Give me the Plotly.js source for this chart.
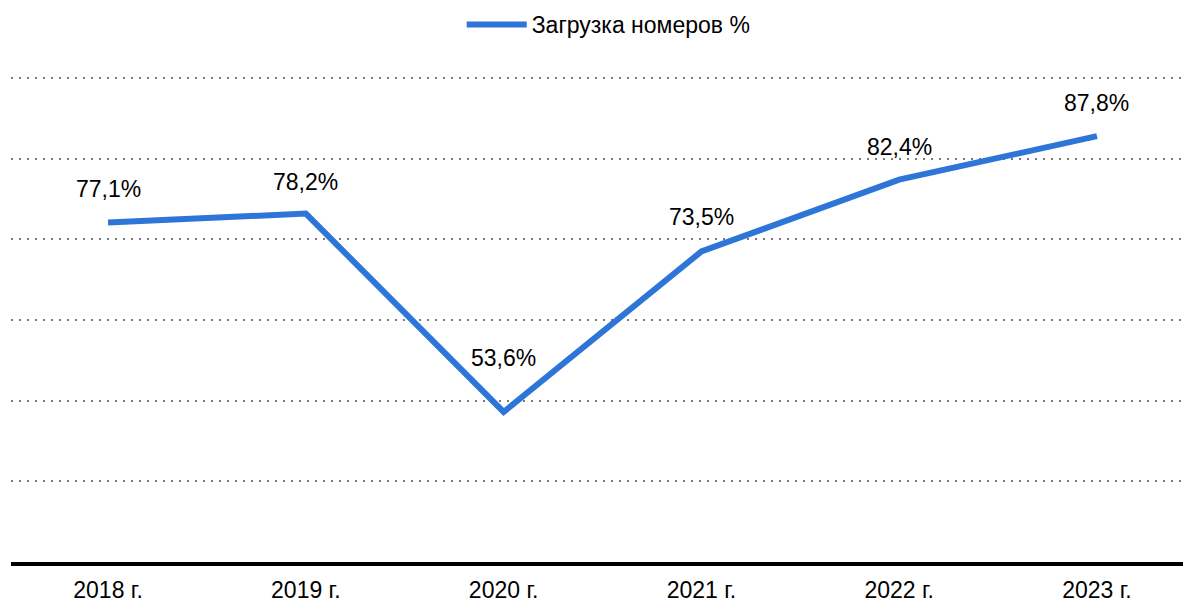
<!DOCTYPE html>
<html>
<head>
<meta charset="utf-8">
<script src="https://cdn.plot.ly/plotly-3.0.1.min.js"></script>
<style>html,body{margin:0;padding:0;background:#fff;}#chart{width:1187px;height:607px;}</style>
</head>
<body>
<div id="chart"></div>
<script>
const categories = ["2018 г.", "2019 г.", "2020 г.", "2021 г.", "2022 г.", "2023 г."];
const occupancy = [77.1, 78.2, 53.6, 73.5, 82.4, 87.8];
const valueLabels = ["77,1%", "78,2%", "53,6%", "73,5%", "82,4%", "87,8%"];
const seriesName = "Загрузка номеров %";
const labelShift = [33, 32, 54, 34, 33, 33];

const FONT = "'Liberation Sans Narrow', 'Arial Narrow', 'Liberation Sans', Arial, sans-serif";
const BLUE = "#2E75D8";
const FS = 23;

const trace = {
  x: categories,
  y: occupancy,
  type: "scatter",
  mode: "lines",
  name: seriesName,
  line: {color: BLUE, width: 6},
  hoverinfo: "skip"
};

const annotations = categories.map((c, i) => ({
  x: c, y: occupancy[i], xref: "x", yref: "y",
  text: valueLabels[i], showarrow: false, yshift: labelShift[i],
  font: {family: FONT, size: FS, color: "#000"}
}));

const layout = {
  width: 1187, height: 607,
  margin: {l: 11, r: 4, t: 70, b: 45},
  paper_bgcolor: "#fff", plot_bgcolor: "#fff",
  showlegend: true,
  legend: {
    orientation: "h", x: 0.51, xanchor: "center", y: 0.995, yref: "container", yanchor: "top",
    font: {family: FONT, size: FS, color: "#000"},
    itemwidth: 60
  },
  xaxis: {
    type: "category",
    range: [-0.4907, 5.435],
    showgrid: false,
    showline: true, linecolor: "#000", linewidth: 4,
    ticks: "outside", ticklen: 4, tickcolor: "rgba(0,0,0,0)",
    tickfont: {family: FONT, size: FS, color: "#000"},
    zeroline: false
  },
  yaxis: {
    range: [35, 96],
    tick0: 35, dtick: 10,
    showticklabels: false,
    showgrid: true, gridcolor: "#7a7a7a", gridwidth: 2, griddash: "2px,6px",
    zeroline: false, showline: false, ticks: ""
  },
  annotations: annotations
};

Plotly.newPlot("chart", [trace], layout, {staticPlot: true, displayModeBar: false});
</script>
</body>
</html>
